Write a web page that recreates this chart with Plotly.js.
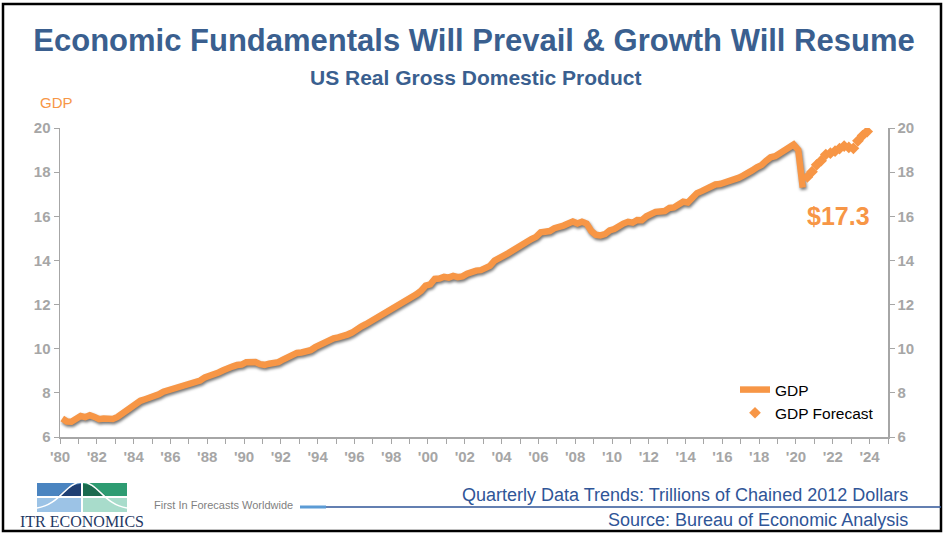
<!DOCTYPE html>
<html>
<head>
<meta charset="utf-8">
<script src="https://cdn.plot.ly/plotly-3.0.1.min.js"></script>
<style>
  html, body { margin: 0; padding: 0; background: #ffffff; }
  #chart { width: 948px; height: 538px; }
</style>
</head>
<body>
<div id="chart"></div>
<script>
// ---------- DATA ----------
// Quarterly US real GDP, trillions of chained 2012 dollars, starting 1980 Q1
var actualStartYear = 1980;
var gdpActual = [
  6.84, 6.70, 6.69, 6.81,   // 1980
  6.95, 6.90, 6.99, 6.91,   // 1981
  6.81, 6.84, 6.81, 6.82,   // 1982
  6.91, 7.07, 7.21, 7.35,   // 1983
  7.51, 7.64, 7.71, 7.77,   // 1984
  7.86, 7.93, 8.05, 8.11,   // 1985
  8.20, 8.24, 8.30, 8.34,   // 1986
  8.41, 8.49, 8.56, 8.70,   // 1987
  8.75, 8.87, 8.92, 9.02,   // 1988
  9.13, 9.19, 9.26, 9.28,   // 1989
  9.39, 9.41, 9.40, 9.30,   // 1990
  9.27, 9.32, 9.35, 9.39,   // 1991
  9.51, 9.61, 9.69, 9.81,   // 1992
  9.83, 9.88, 9.93, 10.07,  // 1993
  10.17, 10.30, 10.36, 10.47, // 1994
  10.51, 10.55, 10.64, 10.73, // 1995
  10.83, 11.00, 11.11, 11.23, // 1996
  11.33, 11.49, 11.62, 11.71, // 1997
  11.84, 11.92, 12.07, 12.23, // 1998
  12.34, 12.46, 12.62, 12.86, // 1999
  12.92, 13.16, 13.18, 13.26, // 2000
  13.22, 13.30, 13.24, 13.28, // 2001
  13.40, 13.48, 13.54, 13.56, // 2002
  13.64, 13.75, 13.99, 14.15, // 2003
  14.22, 14.33, 14.47, 14.61, // 2004
  14.77, 14.84, 14.97, 15.07, // 2005
  15.27, 15.30, 15.33, 15.46, // 2006
  15.49, 15.58, 15.67, 15.76, // 2007
  15.67, 15.75, 15.67, 15.33, // 2008
  15.16, 15.13, 15.19, 15.36, // 2009
  15.42, 15.56, 15.67, 15.75, // 2010
  15.71, 15.83, 15.82, 16.00, // 2011
  16.13, 16.20, 16.22, 16.24, // 2012
  16.38, 16.40, 16.53, 16.66, // 2013
  16.62, 16.84, 17.05, 17.14, // 2014
  17.27, 17.38, 17.44, 17.46, // 2015
  17.52, 17.57, 17.67, 17.74, // 2016
  17.84, 17.93, 18.08, 18.22, // 2017
  18.32, 18.51, 18.67, 18.72, // 2018
  18.83, 18.95, 19.12, 19.25, // 2019
  19.01, 17.30              // 2020 Q1-Q2
];
// Forecast, quarterly, starting 2020 Q3
var forecastStartYear = 2020;
var forecastStartQuarter = 3;
var gdpForecast = [
  17.78, 18.02, 18.33, 18.52, 18.80, 18.86, 18.95,
  19.07, 19.18, 19.12, 19.08, 19.42, 19.66, 19.84
];
var tickYears = [1980,1981,1982,1983,1984,1985,1986,1987,1988,1989,1990,1991,1992,1993,1994,1995,
  1996,1997,1998,1999,2000,2001,2002,2003,2004,2005,2006,2007,2008,2009,2010,2011,2012,2013,2014,
  2015,2016,2017,2018,2019,2020,2021,2022,2023,2024,2025];
var tickLabels = ["'80","","'82","","'84","","'86","","'88","","'90","","'92","","'94","",
  "'96","","'98","","'00","","'02","","'04","","'06","","'08","","'10","","'12","","'14",
  "","'16","","'18","","'20","","'22","","'24",""];
var yTicks = [6, 8, 10, 12, 14, 16, 18, 20];
var calloutLabel = "$17.3";

// ---------- helpers ----------
var midMonth = ["02-15", "05-15", "08-15", "11-15"];
function quarterDates(startYear, startQ, n) {
  var out = [], y = startYear, q = startQ;
  for (var i = 0; i < n; i++) {
    out.push(y + "-" + midMonth[q - 1]);
    q++; if (q > 4) { q = 1; y++; }
  }
  return out;
}
var actualDates = quarterDates(actualStartYear, 1, gdpActual.length);
var forecastDates = quarterDates(forecastStartYear, forecastStartQuarter, gdpForecast.length);
var tickDates = tickYears.map(function (y) { return y + "-01-01"; });

// pixel -> paper helpers for decorations (plot area 60..888 x, 128..437 y)
var L = 60, R = 888, T = 128, B = 437;
function px(x) { return (x - L) / (R - L); }
function py(y) { return (B - y) / (B - T); }

var ORANGE = "#F79646";
var GRAY = "#A6A6A6";
var BLUE = "#3A5F8F";
var FONT = "Arial, Liberation Sans, sans-serif";

var traces = [
  {
    x: actualDates, y: gdpActual, name: "GDP", type: "scatter", mode: "lines",
    line: { color: ORANGE, width: 6.5 }, hoverinfo: "x+y"
  },
  {
    x: forecastDates, y: gdpForecast, name: "GDP Forecast", type: "scatter", mode: "markers",
    yaxis: "y2",
    marker: { symbol: "diamond", color: ORANGE, size: 9 }
  }
];

var axisFont = { family: FONT, size: 15, color: GRAY, weight: "bold" };
var yAxisCommon = {
  range: [6, 20], tickvals: yTicks, showgrid: false, zeroline: false,
  showline: true, linecolor: GRAY, linewidth: 1.5,
  ticks: "outside", ticklen: 5, tickcolor: GRAY, tickwidth: 1,
  tickfont: axisFont, fixedrange: true
};

var shapes = [
  // frame
  { type: "rect", xref: "paper", yref: "paper", x0: px(3), x1: px(941), y0: py(531), y1: py(4),
    line: { color: "#000000", width: 2.5 }, fillcolor: "rgba(0,0,0,0)", layer: "above" },
  // rule under footer
  { type: "line", xref: "paper", yref: "paper", x0: px(300), x1: px(326), y0: py(507), y1: py(507),
    line: { color: "#5B9BD5", width: 3 } },
  { type: "line", xref: "paper", yref: "paper", x0: px(326), x1: px(941), y0: py(507), y1: py(507),
    line: { color: "#2F5597", width: 1.5 } },
  // logo blocks
  { type: "rect", xref: "paper", yref: "paper", x0: px(37), x1: px(81), y0: py(496), y1: py(483),
    line: { width: 0 }, fillcolor: "#4A84C0" },
  { type: "rect", xref: "paper", yref: "paper", x0: px(83), x1: px(127), y0: py(496), y1: py(483),
    line: { width: 0 }, fillcolor: "#2E9C72" },
  { type: "rect", xref: "paper", yref: "paper", x0: px(37), x1: px(81), y0: py(512), y1: py(498),
    line: { width: 0 }, fillcolor: "#9CC3E6" },
  { type: "rect", xref: "paper", yref: "paper", x0: px(83), x1: px(127), y0: py(512), y1: py(498),
    line: { width: 0 }, fillcolor: "#A8DCCB" },
  // dark areas under the bell curve (top band)
  { type: "path", xref: "paper", yref: "paper",
    path: "M " + px(58) + "," + py(496) + " Q " + px(72) + "," + py(483) + " " + px(81) + "," + py(484) +
          " L " + px(81) + "," + py(496) + " Z",
    line: { width: 0 }, fillcolor: "#1F3F73" },
  { type: "path", xref: "paper", yref: "paper",
    path: "M " + px(83) + "," + py(484) + " Q " + px(92) + "," + py(483) + " " + px(106) + "," + py(496) +
          " L " + px(83) + "," + py(496) + " Z",
    line: { width: 0 }, fillcolor: "#1B6B4F" },
  // bell curve
  { type: "path", xref: "paper", yref: "paper",
    path: "M " + px(37) + "," + py(508) + " C " + px(60) + "," + py(505) + " " + px(66) + "," + py(482) +
          " " + px(82) + "," + py(482) + " C " + px(98) + "," + py(482) + " " + px(104) + "," + py(505) +
          " " + px(127) + "," + py(508),
    line: { color: "#ffffff", width: 1.5 } }
];

var annotations = [
  { text: "US Real Gross Domestic Product", xref: "paper", yref: "paper",
    x: px(475), y: py(78), xanchor: "center", yanchor: "middle", showarrow: false,
    font: { family: FONT, size: 21, color: BLUE, weight: "bold" } },
  { text: "GDP", xref: "paper", yref: "paper", x: px(38), y: py(103), xanchor: "left", yanchor: "middle",
    showarrow: false, font: { family: FONT, size: 15, color: ORANGE } },
  { text: calloutLabel, xref: "x", yref: "y",
    x: actualDates[actualDates.length - 1], y: gdpActual[gdpActual.length - 1],
    xshift: 36, yshift: -28, showarrow: false, xanchor: "center", yanchor: "middle",
    font: { family: FONT, size: 25, color: ORANGE, weight: "bold" } },
  { text: "Quarterly Data Trends: Trillions of Chained 2012 Dollars", xref: "paper", yref: "paper",
    x: px(910), y: py(495), xanchor: "right", yanchor: "middle", showarrow: false,
    font: { family: FONT, size: 18, color: "#2F5597" } },
  { text: "Source: Bureau of Economic Analysis", xref: "paper", yref: "paper",
    x: px(910), y: py(520), xanchor: "right", yanchor: "middle", showarrow: false,
    font: { family: FONT, size: 18, color: "#2F5597" } },
  { text: "First In Forecasts Worldwide", xref: "paper", yref: "paper",
    x: px(152), y: py(505), xanchor: "left", yanchor: "middle", showarrow: false,
    font: { family: FONT, size: 11, color: "#7F7F7F" } },
  { text: "ITR ECONOMICS", xref: "paper", yref: "paper",
    x: px(82), y: py(521), xanchor: "center", yanchor: "middle", showarrow: false,
    font: { family: "Liberation Serif, DejaVu Serif, serif", size: 16, color: "#1F3864" } }
];

var layout = {
  width: 948, height: 538,
  margin: { l: L, r: 948 - R, t: T, b: 538 - B, pad: 0 },
  paper_bgcolor: "#ffffff", plot_bgcolor: "#ffffff",
  title: {
    text: "Economic Fundamentals Will Prevail & Growth Will Resume",
    x: 0.5, xanchor: "center", xref: "container",
    y: 1 - 40 / 538, yanchor: "middle", yref: "container",
    font: { family: FONT, size: 31, color: BLUE, weight: "bold" }
  },
  xaxis: {
    type: "date", range: ["1980-01-01", "2025-01-01"],
    tickmode: "array", tickvals: tickDates, ticktext: tickLabels,
    showgrid: false, zeroline: false, showline: true, linecolor: GRAY, linewidth: 1.5,
    ticks: "outside", ticklen: 5, tickcolor: GRAY, tickwidth: 1,
    tickfont: axisFont, fixedrange: true
  },
  yaxis: Object.assign({}, yAxisCommon, { side: "left" }),
  yaxis2: Object.assign({}, yAxisCommon, { side: "right", overlaying: "y" }),
  showlegend: true,
  legend: {
    x: px(735), y: py(373), xanchor: "left", yanchor: "top",
    bgcolor: "rgba(0,0,0,0)", borderwidth: 0,
    font: { family: FONT, size: 15.5, color: "#000000" },
    tracegroupgap: 0
  },
  shapes: shapes,
  annotations: annotations
};

Plotly.newPlot("chart", traces, layout, { displayModeBar: false, staticPlot: true }).then(function () {
  var tr = document.querySelectorAll("#chart .scatterlayer .trace");
  if (tr.length) {
    var p = tr[0].querySelector("path.js-line");
    if (p) p.style.filter = "drop-shadow(1.5px 2px 1.5px rgba(0,0,0,0.55))";
  }
});
</script>
</body>
</html>
